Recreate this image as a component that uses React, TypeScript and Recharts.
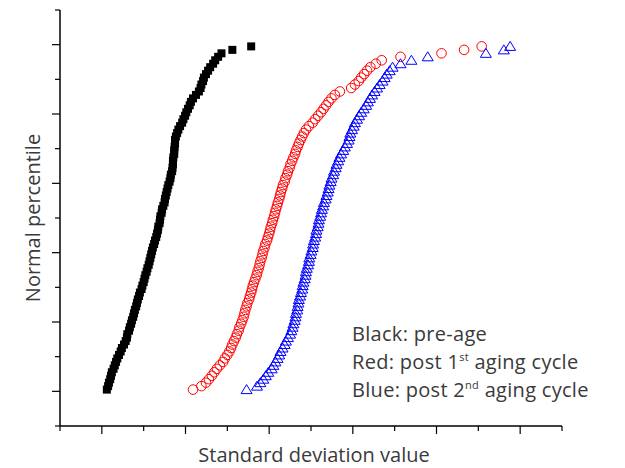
import React from 'react';
import { ScatterChart, Scatter, XAxis, YAxis, Customized } from 'recharts';

const percentiles = [
  0.5, 1.5, 2.5, 3.5, 4.5, 5.5, 6.5, 7.5, 8.5, 9.5,
  10.5, 11.5, 12.5, 13.5, 14.5, 15.5, 16.5, 17.5, 18.5, 19.5,
  20.5, 21.5, 22.5, 23.5, 24.5, 25.5, 26.5, 27.5, 28.5, 29.5,
  30.5, 31.5, 32.5, 33.5, 34.5, 35.5, 36.5, 37.5, 38.5, 39.5,
  40.5, 41.5, 42.5, 43.5, 44.5, 45.5, 46.5, 47.5, 48.5, 49.5,
  50.5, 51.5, 52.5, 53.5, 54.5, 55.5, 56.5, 57.5, 58.5, 59.5,
  60.5, 61.5, 62.5, 63.5, 64.5, 65.5, 66.5, 67.5, 68.5, 69.5,
  70.5, 71.5, 72.5, 73.5, 74.5, 75.5, 76.5, 77.5, 78.5, 79.5,
  80.5, 81.5, 82.5, 83.5, 84.5, 85.5, 86.5, 87.5, 88.5, 89.5,
  90.5, 91.5, 92.5, 93.5, 94.5, 95.5, 96.5, 97.5, 98.5, 99.5,
];

const preAge = [
  1.12, 1.15, 1.17, 1.20, 1.22, 1.24, 1.28, 1.31, 1.34, 1.37,
  1.41, 1.45, 1.48, 1.53, 1.57, 1.60, 1.61, 1.65, 1.67, 1.70,
  1.72, 1.75, 1.77, 1.79, 1.82, 1.84, 1.86, 1.89, 1.91, 1.95,
  1.97, 2.00, 2.02, 2.04, 2.07, 2.09, 2.12, 2.14, 2.16, 2.18,
  2.20, 2.22, 2.25, 2.27, 2.30, 2.32, 2.34, 2.35, 2.38, 2.39,
  2.40, 2.43, 2.44, 2.47, 2.50, 2.51, 2.53, 2.55, 2.57, 2.59,
  2.62, 2.64, 2.65, 2.68, 2.69, 2.70, 2.70, 2.71, 2.73, 2.73,
  2.74, 2.75, 2.75, 2.77, 2.80, 2.83, 2.87, 2.92, 2.95, 2.99,
  3.02, 3.06, 3.10, 3.13, 3.18, 3.25, 3.32, 3.36, 3.38, 3.42,
  3.44, 3.49, 3.54, 3.59, 3.66, 3.71, 3.78, 3.86, 4.12, 4.57,
];

const postFirst = [
  3.18, 3.38, 3.49, 3.56, 3.63, 3.69, 3.75, 3.82, 3.90, 3.94,
  4.00, 4.05, 4.09, 4.12, 4.16, 4.20, 4.23, 4.27, 4.29, 4.33,
  4.36, 4.39, 4.41, 4.43, 4.46, 4.48, 4.52, 4.54, 4.57, 4.59,
  4.61, 4.64, 4.67, 4.70, 4.72, 4.75, 4.77, 4.79, 4.82, 4.84,
  4.86, 4.89, 4.91, 4.95, 4.97, 5.00, 5.02, 5.04, 5.07, 5.09,
  5.12, 5.14, 5.16, 5.19, 5.21, 5.24, 5.26, 5.28, 5.31, 5.33,
  5.37, 5.39, 5.43, 5.45, 5.49, 5.51, 5.55, 5.58, 5.62, 5.64,
  5.68, 5.71, 5.75, 5.79, 5.83, 5.88, 5.95, 6.04, 6.10, 6.17,
  6.24, 6.30, 6.36, 6.42, 6.49, 6.57, 6.69, 6.96, 7.05, 7.14,
  7.20, 7.27, 7.34, 7.42, 7.55, 7.69, 8.14, 9.12, 9.66, 10.08,
];

const postSecond = [
  4.46, 4.71, 4.79, 4.86, 4.92, 4.98, 5.06, 5.10, 5.15, 5.20,
  5.24, 5.27, 5.32, 5.37, 5.40, 5.45, 5.50, 5.53, 5.56, 5.58,
  5.61, 5.63, 5.64, 5.67, 5.68, 5.70, 5.71, 5.74, 5.76, 5.79,
  5.80, 5.82, 5.85, 5.87, 5.88, 5.90, 5.93, 5.95, 5.96, 5.99,
  6.01, 6.04, 6.05, 6.07, 6.10, 6.12, 6.13, 6.16, 6.18, 6.19,
  6.22, 6.24, 6.26, 6.29, 6.31, 6.35, 6.37, 6.40, 6.42, 6.44,
  6.47, 6.49, 6.53, 6.55, 6.59, 6.61, 6.65, 6.68, 6.72, 6.77,
  6.81, 6.86, 6.90, 6.92, 6.94, 6.98, 7.02, 7.05, 7.10, 7.15,
  7.20, 7.26, 7.32, 7.36, 7.41, 7.46, 7.52, 7.58, 7.64, 7.71,
  7.76, 7.81, 7.88, 7.95, 8.14, 8.40, 8.79, 10.18, 10.61, 10.76,
];

const xTicks = [0, 1, 2, 3, 4, 5, 6, 7, 8, 9, 10, 11, 12];
const yTicks = [-10, 0, 10, 20, 30, 40, 50, 60, 70, 80, 90, 100, 110];

const toPoints = (xs: number[]) => xs.map((x, i) => ({ x, y: percentiles[i] }));

const FONT = '"Open Sans", Lato, sans-serif';
const TEXT = '#3a3a3a';

const XTick = (props: any) => {
  const { x, y, payload } = props;
  const major = Math.abs(payload.value % 2) === 1;
  return <line x1={x} x2={x} y1={y} y2={y + (major ? 8 : 5)} stroke="#000" strokeWidth={1.2} />;
};

const YTick = (props: any) => {
  const { x, y, payload } = props;
  const v = payload.value;
  const major = v % 20 === 0 && v >= 0 && v <= 100;
  return <line x1={x} x2={x - (major ? 8 : 5)} y1={y} y2={y} stroke="#000" strokeWidth={1.2} />;
};

const Square = (p: any) => (
  <rect x={p.cx - 4} y={p.cy - 4} width={8} height={8} fill="#000" />
);
const Ring = (p: any) => (
  <circle cx={p.cx} cy={p.cy} r={4.8} fill="none" stroke="#ff0000" strokeWidth={1} />
);
const Tri = (p: any) => (
  <polygon
    points={`${p.cx},${p.cy - 5} ${p.cx - 5.5},${p.cy + 4} ${p.cx + 5.5},${p.cy + 4}`}
    fill="none"
    stroke="#0000ff"
    strokeWidth={1}
  />
);

const Texts = () => (
  <g fontFamily={FONT} fill={TEXT}>
    <text x={314} y={462} fontSize={20} textAnchor="middle">Standard deviation value</text>
    <text x={40} y={218} fontSize={20} textAnchor="middle" transform="rotate(-90 40 218)">Normal percentile</text>
    <g fontSize={20} letterSpacing={0.3}>
      <text x={352} y={341}>Black: pre-age</text>
      <text x={352} y={369}>
        <tspan>Red: post 1</tspan>
        <tspan fontSize={11} dy={-8}>st</tspan>
        <tspan dy={8}> aging cycle</tspan>
      </text>
      <text x={352} y={397}>
        <tspan>Blue: post 2</tspan>
        <tspan fontSize={11} dy={-8}>nd</tspan>
        <tspan dy={8}> aging cycle</tspan>
      </text>
    </g>
  </g>
);

export default function App() {
  return (
    <div style={{ position: 'absolute', left: 0, top: 0, background: '#fff' }}>
      <ScatterChart width={625} height={468} margin={{ top: 10, right: 63, bottom: 0, left: 0 }}>
        <XAxis
          type="number"
          dataKey="x"
          domain={[0, 12]}
          ticks={xTicks}
          interval={0}
          height={42}
          tickSize={0}
          tickMargin={0}
          tickLine={false}
          tick={<XTick />}
          axisLine={{ stroke: '#000', strokeWidth: 1.5 }}
          allowDataOverflow
        />
        <YAxis
          type="number"
          dataKey="y"
          domain={[-10, 110]}
          ticks={yTicks}
          interval={0}
          width={60}
          tickSize={0}
          tickMargin={0}
          tickLine={false}
          tick={<YTick />}
          axisLine={{ stroke: '#000', strokeWidth: 1.5 }}
          allowDataOverflow
        />
        <Scatter data={toPoints(preAge)} shape={<Square />} isAnimationActive={false} />
        <Scatter data={toPoints(postFirst)} shape={<Ring />} isAnimationActive={false} />
        <Scatter data={toPoints(postSecond)} shape={<Tri />} isAnimationActive={false} />
        <Customized component={Texts} />
      </ScatterChart>
    </div>
  );
}
